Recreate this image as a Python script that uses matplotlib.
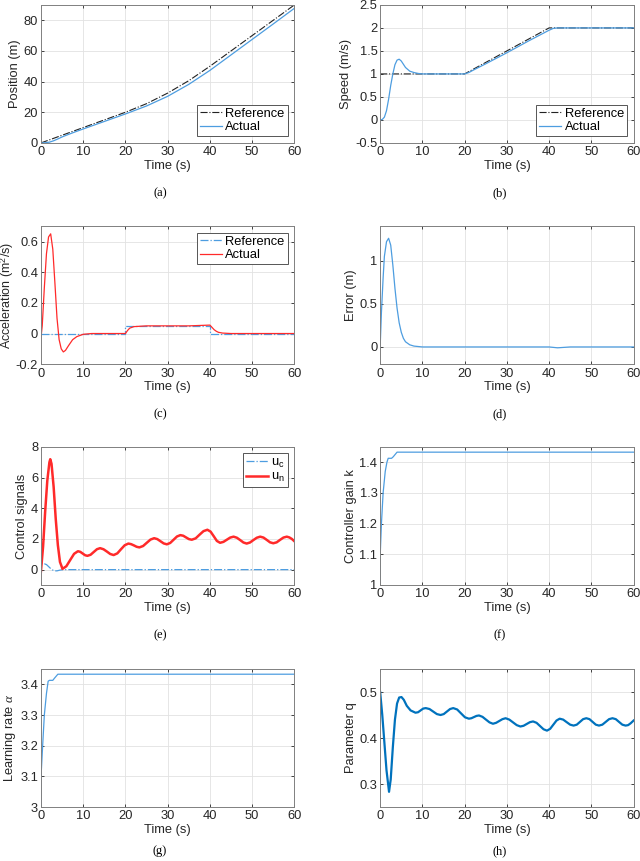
import matplotlib
matplotlib.use("Agg")
import matplotlib.pyplot as plt

plt.rcParams['font.family'] = ['Liberation Sans', 'DejaVu Sans']
plt.rcParams['font.size'] = 9.3
plt.rcParams['axes.unicode_minus'] = False
plt.rcParams['mathtext.fontset'] = 'custom'
plt.rcParams['mathtext.rm'] = 'Liberation Sans'
plt.rcParams['mathtext.it'] = 'Liberation Serif:italic'

# (a) position
t_pos_ref = [0, 5, 10, 15, 20, 25, 30, 35, 40, 45, 50, 55, 60]
pos_ref = [0, 5, 10, 15, 20, 25.6, 32.5, 40.6, 50, 60, 70, 80, 90]
t_pos_act = [0, 1, 2, 3, 4, 5, 6, 8, 10, 15, 20, 25, 30, 35, 40, 45, 50, 55, 60]
pos_act = [0, 0.1, 0.5, 1.4, 2.6, 3.9, 5.0, 7.1, 9.1, 14.0, 18.9, 24.1, 30.4, 38.2, 47.3, 57.4, 67.5, 77.6, 87.8]

# (b) speed
t_spd_ref = [0, 20, 40, 60]
spd_ref = [1, 1, 2, 2]
t_spd_act = [0, 0.5, 1, 1.5, 2, 2.5, 3, 3.5, 4, 4.5, 5, 5.5, 6, 7, 8, 9, 10, 12, 15, 20,
             21, 22, 25, 30, 35, 40, 41, 42, 45, 50, 55, 60]
spd_act = [0, 0.01, 0.06, 0.2, 0.45, 0.75, 1.0, 1.2, 1.3, 1.32, 1.28, 1.21, 1.14, 1.06, 1.03, 1.01, 1.0, 1.0, 1.0, 1.0,
           1.03, 1.08, 1.22, 1.46, 1.71, 1.95, 1.99, 2.0, 2.0, 2.0, 2.0, 2.0]

# (c) acceleration
t_acc_ref = [0, 20, 20, 40, 40, 60]
acc_ref = [0, 0, 0.05, 0.05, 0, 0]
t_acc_act = [0, 0.3, 0.8, 1.3, 1.8, 2.3, 2.8, 3.3, 3.8, 4.3, 4.8, 5.3, 5.8, 6.5, 7.5, 8.5, 10, 12, 15, 20,
             20.5, 21, 22, 25, 30, 35, 40, 40.5, 41, 41.5, 42, 43, 45, 50, 55, 60]
acc_act = [-0.03, 0.05, 0.3, 0.52, 0.63, 0.65, 0.55, 0.33, 0.1, -0.04, -0.1, -0.12, -0.11, -0.08, -0.04, -0.02, -0.005, 0, 0, 0,
           0.02, 0.035, 0.045, 0.05, 0.05, 0.05, 0.055, 0.04, 0.025, 0.015, 0.008, 0.003, 0, 0, 0, 0]

# (d) error
t_err = [0, 0.3, 0.7, 1, 1.5, 2, 2.5, 3, 3.5, 4, 4.5, 5, 5.5, 6, 7, 8, 9, 10, 20, 40, 42, 45, 50, 60]
err = [0, 0.4, 0.8, 1.05, 1.22, 1.26, 1.18, 0.95, 0.68, 0.45, 0.28, 0.17, 0.1, 0.06, 0.025, 0.01, 0.005, 0, 0, 0, -0.01, 0, 0, 0]

# (e) control signals
t_uc = [0, 0.1, 0.3, 0.8, 1.3, 1.8, 2.3, 2.8, 3.3, 3.8, 4.5, 5.5, 10, 20, 30, 40, 50, 60]
uc = [1.1, 0.6, 0.38, 0.38, 0.33, 0.2, 0.07, -0.03, -0.08, -0.08, -0.03, 0, 0, 0, 0, 0, 0, 0]
t_un = [0, 0.5, 1.0, 1.5, 2.0, 2.2, 2.5, 3.0, 3.5, 4.0, 4.5, 5.1,
        6.01, 6.93, 7.84, 8.75, 9.31, 9.88, 10.44, 11.0, 11.75, 12.5, 13.25, 14.0,
        14.8, 15.6, 16.4, 17.2, 18.08, 18.95, 19.83, 20.7, 21.35, 22.0, 22.65, 23.3,
        24.18, 25.05, 25.93, 26.8, 27.55, 28.3, 29.05, 29.8, 30.6, 31.4, 32.2, 33.0,
        33.68, 34.35, 35.03, 35.7, 36.63, 37.55, 38.48, 39.4, 40.15, 40.9, 41.65, 42.4,
        43.2, 44.0, 44.8, 45.6, 46.38, 47.15, 47.93, 48.7, 49.5, 50.3, 51.1, 51.9,
        52.68, 53.45, 54.23, 55.0, 55.8, 56.6, 57.4, 58.2, 58.8, 59.4, 60.0]
un = [-0.1, 1.5, 3.8, 5.8, 7.0, 7.2, 6.9, 5.4, 3.3, 1.6, 0.5, 0.05,
      0.22, 0.63, 1.03, 1.2, 1.16, 1.05, 0.94, 0.9, 0.97, 1.15, 1.33, 1.4,
      1.33, 1.18, 1.02, 0.95, 1.06, 1.33, 1.59, 1.7, 1.66, 1.58, 1.49, 1.45,
      1.54, 1.75, 1.96, 2.05, 1.99, 1.85, 1.71, 1.65, 1.74, 1.95, 2.16, 2.25,
      2.21, 2.10, 1.99, 1.95, 2.04, 2.28, 2.51, 2.6, 2.48, 2.18, 1.87, 1.75,
      1.81, 1.95, 2.09, 2.15, 2.08, 1.93, 1.77, 1.7, 1.77, 1.93, 2.08, 2.15,
      2.09, 1.94, 1.78, 1.72, 1.78, 1.94, 2.09, 2.15, 2.1, 2.0, 1.85]

# (f) controller gain
t_k = [0, 0.02, 0.3, 0.7, 1.2, 1.6, 1.9, 2.7, 3.1, 4.0, 60]
k = [1.0, 1.1, 1.2, 1.3, 1.37, 1.4, 1.413, 1.413, 1.418, 1.433, 1.433]

# (g) learning rate
t_alpha = [0, 0.02, 0.4, 0.8, 1.3, 1.7, 2.0, 2.8, 3.2, 4.0, 60]
alpha = [3.0, 3.1, 3.2, 3.3, 3.37, 3.41, 3.413, 3.413, 3.42, 3.433, 3.433]

# (h) parameter q
t_q = [0, 0.5, 1.0, 1.5, 2.1, 2.5, 3.0, 3.5, 4.0, 4.5, 5.05, 5.6, 6.3, 7.2, 8.36,
       8.97, 9.58, 10.19, 10.8, 11.68, 12.55, 13.43, 14.3, 15.05, 15.8, 16.55, 17.3,
       18.23, 19.15, 20.08, 21.0, 21.6, 22.2, 22.8, 23.4, 24.23, 25.05, 25.88, 26.7,
       27.45, 28.2, 28.95, 29.7, 30.58, 31.45, 32.33, 33.2, 33.95, 34.7, 35.45, 36.2,
       37.03, 37.85, 38.68, 39.5, 40.25, 41.0, 41.75, 42.5, 43.33, 44.15, 44.98, 45.8,
       46.55, 47.3, 48.05, 48.8, 49.55, 50.3, 51.05, 51.8, 52.6, 53.4, 54.2, 55.0,
       55.78, 56.55, 57.33, 58.1, 58.7, 59.3, 60.0]
q = [0.5, 0.45, 0.39, 0.33, 0.283, 0.31, 0.38, 0.44, 0.475, 0.488, 0.489, 0.483, 0.47, 0.46, 0.455,
     0.456, 0.46, 0.464, 0.465, 0.463, 0.4575, 0.452, 0.45, 0.452, 0.4575, 0.463, 0.465,
     0.462, 0.4535, 0.445, 0.442, 0.443, 0.4455, 0.448, 0.449, 0.446, 0.44, 0.434, 0.431,
     0.433, 0.437, 0.441, 0.443, 0.44, 0.434, 0.428, 0.425, 0.4266, 0.4305, 0.4344, 0.436,
     0.433, 0.426, 0.419, 0.416, 0.42, 0.429, 0.438, 0.442, 0.44, 0.4345, 0.429, 0.427,
     0.429, 0.435, 0.441, 0.443, 0.441, 0.435, 0.429, 0.427, 0.429, 0.435, 0.441, 0.443,
     0.441, 0.435, 0.429, 0.427, 0.428, 0.432, 0.438]

x_ticks = [0, 10, 20, 30, 40, 50, 60]

BLUE = '#4d9de0'
DARKBLUE = '#0072BD'
RED = '#ff2a2a'
AXC = '#262626'

fig = plt.figure(figsize=(6.4, 8.61), dpi=100)

lefts = [0.064, 0.594]
bottoms = [0.834, 0.577, 0.3206, 0.0627]
W, H = 0.396, 0.1603


def make_ax(row, col):
    ax = fig.add_axes([lefts[col], bottoms[row], W, H])
    ax.set_xlim(0, 60)
    ax.set_xticks(x_ticks)
    ax.grid(True, color='#e2e2e2', linewidth=0.6)
    ax.set_axisbelow(True)
    for s in ax.spines.values():
        s.set_color('#808080')
        s.set_linewidth(0.7)
    ax.tick_params(direction='in', length=2.5, width=0.6, color=AXC,
                   labelcolor=AXC, top=True, right=True, pad=2.5)
    ax.tick_params(axis='y', pad=2)
    ax.set_xlabel('Time (s)', color=AXC, labelpad=1)
    return ax


def caption(row, col, s):
    y = bottoms[row] - 0.058
    fig.text(lefts[col] + W * 0.47, max(y, 0.0), s,
             family='Liberation Serif', fontsize=9, ha='center',
             va='center' if y > 0.02 else 'bottom')


def legend(ax, loc):
    leg = ax.legend(loc=loc, fancybox=False, framealpha=1, edgecolor='#555555',
                    borderpad=0.25, handlelength=1.7, handletextpad=0.25,
                    labelspacing=0.1, borderaxespad=0.5, fontsize=9.3)
    leg.get_frame().set_linewidth(0.7)


# (a)
ax = make_ax(0, 0)
ax.plot(t_pos_ref, pos_ref, '-.', color='#222222', lw=0.8, label='Reference')
ax.plot(t_pos_act, pos_act, '-', color=BLUE, lw=0.9, label='Actual')
ax.set_ylim(0, 90)
ax.set_yticks([0, 20, 40, 60, 80])
ax.set_ylabel('Position (m)', color=AXC, labelpad=2)
legend(ax, 'lower right')
caption(0, 0, '(a)')

# (b)
ax = make_ax(0, 1)
ax.plot(t_spd_ref, spd_ref, '-.', color='#222222', lw=0.8, label='Reference')
ax.plot(t_spd_act, spd_act, '-', color=BLUE, lw=0.9, label='Actual')
ax.set_ylim(-0.5, 2.5)
ax.set_yticks([-0.5, 0, 0.5, 1, 1.5, 2, 2.5])
ax.set_yticklabels(['-0.5', '0', '0.5', '1', '1.5', '2', '2.5'])
ax.set_ylabel('Speed (m/s)', color=AXC, labelpad=2)
legend(ax, 'lower right')
caption(0, 1, '(b)')

# (c)
ax = make_ax(1, 0)
ax.plot(t_acc_ref, acc_ref, '-.', color=BLUE, lw=0.9, label='Reference')
ax.plot(t_acc_act, acc_act, '-', color=RED, lw=0.9, label='Actual')
ax.set_ylim(-0.2, 0.7)
ax.set_yticks([-0.2, 0, 0.2, 0.4, 0.6])
ax.set_yticklabels(['-0.2', '0', '0.2', '0.4', '0.6'])
ax.set_ylabel('Acceleration (m$^\\mathregular{2}$/s)', color=AXC, labelpad=0,
              fontsize=9)
legend(ax, 'upper right')
caption(1, 0, '(c)')

# (d)
ax = make_ax(1, 1)
ax.plot(t_err, err, '-', color=BLUE, lw=0.9)
ax.set_ylim(-0.2, 1.4)
ax.set_yticks([0, 0.5, 1])
ax.set_yticklabels(['0', '0.5', '1'])
ax.set_ylabel('Error (m)', color=AXC, labelpad=2)
caption(1, 1, '(d)')

# (e)
ax = make_ax(2, 0)
ax.plot(t_uc, uc, '-.', color=BLUE, lw=0.9, label='$\\mathregular{u_c}$')
ax.plot(t_un, un, '-', color=RED, lw=1.8, label='$\\mathregular{u_n}$')
ax.set_ylim(-1, 8)
ax.set_yticks([0, 2, 4, 6, 8])
ax.set_ylabel('Control signals', color=AXC, labelpad=2)
legend(ax, 'upper right')
caption(2, 0, '(e)')

# (f)
ax = make_ax(2, 1)
ax.plot(t_k, k, '-', color=BLUE, lw=0.9)
ax.set_ylim(1, 1.45)
ax.set_yticks([1, 1.1, 1.2, 1.3, 1.4])
ax.set_yticklabels(['1', '1.1', '1.2', '1.3', '1.4'])
ax.set_ylabel('Controller gain k', color=AXC, labelpad=2)
caption(2, 1, '(f)')

# (g)
ax = make_ax(3, 0)
ax.plot(t_alpha, alpha, '-', color=BLUE, lw=0.9)
ax.set_ylim(3, 3.45)
ax.set_yticks([3, 3.1, 3.2, 3.3, 3.4])
ax.set_yticklabels(['3', '3.1', '3.2', '3.3', '3.4'])
ax.set_ylabel('Learning rate $\\mathit{\\alpha}$', color=AXC, labelpad=2)
caption(3, 0, '(g)')

# (h)
ax = make_ax(3, 1)
ax.plot(t_q, q, '-', color=DARKBLUE, lw=1.6)
ax.set_ylim(0.25, 0.55)
ax.set_yticks([0.3, 0.4, 0.5])
ax.set_ylabel('Parameter q', color=AXC, labelpad=2)
caption(3, 1, '(h)')

fig.savefig('out.png', dpi=100)
